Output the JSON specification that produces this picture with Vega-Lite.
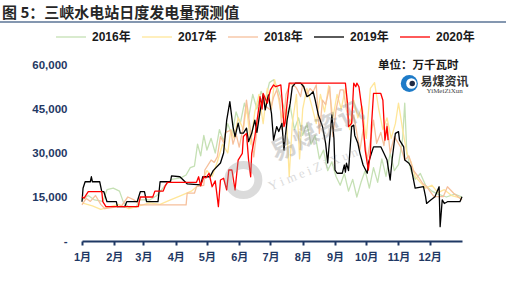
{
  "$schema": "https://vega.github.io/schema/vega-lite/v6.json",
  "width": 380,
  "height": 176,
  "autosize": {"type": "none"},
  "padding": {"left": 82, "top": 65, "right": 44, "bottom": 45},
  "background": "white",
  "title": {
    "text": "图 5：三峡水电站日度发电量预测值",
    "anchor": "start",
    "frame": "group",
    "dx": -80,
    "dy": 4,
    "font": "Noto Sans CJK SC",
    "fontSize": 15,
    "fontWeight": "bold",
    "color": "#262626",
    "offset": 4
  },
  "config": {
    "view": {"stroke": null},
    "axis": {"grid": false},
    "axisX": {"labelOverlap": false}
  },
  "datasets": {
    "daily": [
      {"s":"2016年","d":0,"v":14000},{"s":"2016年","d":6,"v":15500},{"s":"2016年","d":12,"v":14000},{"s":"2016年","d":20,"v":13500},{"s":"2016年","d":24,"v":17500},{"s":"2016年","d":30,"v":18000},{"s":"2016年","d":36,"v":17000},{"s":"2016年","d":40,"v":13000},{"s":"2016年","d":45,"v":11500},{"s":"2016年","d":52,"v":11500},{"s":"2016年","d":55,"v":14000},{"s":"2016年","d":65,"v":14000},{"s":"2016年","d":72,"v":15500},{"s":"2016年","d":80,"v":19000},{"s":"2016年","d":86,"v":21000},{"s":"2016年","d":95,"v":21500},{"s":"2016年","d":100,"v":22500},{"s":"2016年","d":104,"v":25000},{"s":"2016年","d":108,"v":25500},{"s":"2016年","d":111,"v":33000},{"s":"2016年","d":114,"v":29000},{"s":"2016年","d":117,"v":36000},{"s":"2016年","d":120,"v":31000},{"s":"2016年","d":124,"v":35000},{"s":"2016年","d":128,"v":30000},{"s":"2016年","d":132,"v":38000},{"s":"2016年","d":136,"v":34000},{"s":"2016年","d":140,"v":40000},{"s":"2016年","d":144,"v":36000},{"s":"2016年","d":148,"v":44000},{"s":"2016年","d":152,"v":40000},{"s":"2016年","d":156,"v":47000},{"s":"2016年","d":160,"v":42000},{"s":"2016年","d":164,"v":50000},{"s":"2016年","d":168,"v":45000},{"s":"2016年","d":172,"v":51000},{"s":"2016年","d":176,"v":48000},{"s":"2016年","d":180,"v":54000},{"s":"2016年","d":184,"v":55000},{"s":"2016年","d":188,"v":52000},{"s":"2016年","d":192,"v":48000},{"s":"2016年","d":196,"v":43000},{"s":"2016年","d":200,"v":46000},{"s":"2016年","d":204,"v":38000},{"s":"2016年","d":208,"v":42000},{"s":"2016年","d":212,"v":36000},{"s":"2016年","d":216,"v":40000},{"s":"2016年","d":220,"v":33000},{"s":"2016年","d":224,"v":36000},{"s":"2016年","d":228,"v":28000},{"s":"2016年","d":232,"v":31000},{"s":"2016年","d":236,"v":24000},{"s":"2016年","d":240,"v":27000},{"s":"2016年","d":244,"v":22000},{"s":"2016年","d":248,"v":19000},{"s":"2016年","d":252,"v":23000},{"s":"2016年","d":256,"v":17000},{"s":"2016年","d":260,"v":21000},{"s":"2016年","d":264,"v":15000},{"s":"2016年","d":268,"v":20000},{"s":"2016年","d":272,"v":24000},{"s":"2016年","d":276,"v":18000},{"s":"2016年","d":280,"v":25000},{"s":"2016年","d":284,"v":20000},{"s":"2016年","d":288,"v":28000},{"s":"2016年","d":292,"v":22000},{"s":"2016年","d":296,"v":30000},{"s":"2016年","d":300,"v":24000},{"s":"2016年","d":304,"v":26000},{"s":"2016年","d":308,"v":35000},{"s":"2016年","d":310,"v":47000},{"s":"2016年","d":312,"v":30000},{"s":"2016年","d":316,"v":24000},{"s":"2016年","d":320,"v":21000},{"s":"2016年","d":325,"v":23000},{"s":"2016年","d":330,"v":19000},{"s":"2016年","d":336,"v":17000},{"s":"2016年","d":342,"v":16000},{"s":"2016年","d":350,"v":15000},{"s":"2016年","d":358,"v":16000},{"s":"2016年","d":365,"v":15000},

      {"s":"2017年","d":0,"v":13000},{"s":"2017年","d":10,"v":12000},{"s":"2017年","d":18,"v":10800},{"s":"2017年","d":25,"v":11500},{"s":"2017年","d":35,"v":12500},{"s":"2017年","d":45,"v":11000},{"s":"2017年","d":55,"v":12000},{"s":"2017年","d":65,"v":13000},{"s":"2017年","d":75,"v":12500},{"s":"2017年","d":85,"v":14000},{"s":"2017年","d":95,"v":15500},{"s":"2017年","d":105,"v":17000},{"s":"2017年","d":115,"v":20000},{"s":"2017年","d":120,"v":24000},{"s":"2017年","d":125,"v":22000},{"s":"2017年","d":130,"v":27000},{"s":"2017年","d":135,"v":33000},{"s":"2017年","d":140,"v":30000},{"s":"2017年","d":143,"v":38000},{"s":"2017年","d":146,"v":35000},{"s":"2017年","d":150,"v":42000},{"s":"2017年","d":155,"v":38000},{"s":"2017年","d":158,"v":46000},{"s":"2017年","d":162,"v":33000},{"s":"2017年","d":166,"v":44000},{"s":"2017年","d":170,"v":50000},{"s":"2017年","d":174,"v":40000},{"s":"2017年","d":178,"v":52000},{"s":"2017年","d":182,"v":45000},{"s":"2017年","d":185,"v":55000},{"s":"2017年","d":188,"v":50000},{"s":"2017年","d":192,"v":42000},{"s":"2017年","d":196,"v":45000},{"s":"2017年","d":199,"v":22000},{"s":"2017年","d":202,"v":40000},{"s":"2017年","d":206,"v":50000},{"s":"2017年","d":209,"v":28000},{"s":"2017年","d":212,"v":45000},{"s":"2017年","d":216,"v":52000},{"s":"2017年","d":220,"v":47000},{"s":"2017年","d":225,"v":40000},{"s":"2017年","d":229,"v":50000},{"s":"2017年","d":233,"v":44000},{"s":"2017年","d":237,"v":53000},{"s":"2017年","d":241,"v":42000},{"s":"2017年","d":245,"v":50000},{"s":"2017年","d":249,"v":45000},{"s":"2017年","d":253,"v":52000},{"s":"2017年","d":257,"v":38000},{"s":"2017年","d":261,"v":48000},{"s":"2017年","d":265,"v":42000},{"s":"2017年","d":269,"v":46000},{"s":"2017年","d":273,"v":35000},{"s":"2017年","d":277,"v":52000},{"s":"2017年","d":281,"v":54000},{"s":"2017年","d":285,"v":45000},{"s":"2017年","d":289,"v":38000},{"s":"2017年","d":293,"v":42000},{"s":"2017年","d":297,"v":35000},{"s":"2017年","d":301,"v":40000},{"s":"2017年","d":304,"v":47000},{"s":"2017年","d":308,"v":38000},{"s":"2017年","d":312,"v":30000},{"s":"2017年","d":316,"v":27000},{"s":"2017年","d":320,"v":22000},{"s":"2017年","d":325,"v":20000},{"s":"2017年","d":330,"v":18000},{"s":"2017年","d":336,"v":19000},{"s":"2017年","d":342,"v":16500},{"s":"2017年","d":348,"v":17500},{"s":"2017年","d":355,"v":15500},{"s":"2017年","d":365,"v":14500},

      {"s":"2018年","d":0,"v":12300},{"s":"2018年","d":4,"v":14500},{"s":"2018年","d":8,"v":13500},{"s":"2018年","d":13,"v":15500},{"s":"2018年","d":18,"v":12500},{"s":"2018年","d":22,"v":11000},{"s":"2018年","d":30,"v":11500},{"s":"2018年","d":38,"v":12000},{"s":"2018年","d":44,"v":15000},{"s":"2018年","d":50,"v":14000},{"s":"2018年","d":56,"v":12300},{"s":"2018年","d":100,"v":12300},{"s":"2018年","d":101,"v":16300},{"s":"2018年","d":108,"v":16300},{"s":"2018年","d":110,"v":18500},{"s":"2018年","d":117,"v":19000},{"s":"2018年","d":118,"v":24200},{"s":"2018年","d":124,"v":27600},{"s":"2018年","d":127,"v":26800},{"s":"2018年","d":130,"v":28700},{"s":"2018年","d":133,"v":35600},{"s":"2018年","d":136,"v":33500},{"s":"2018年","d":138,"v":37000},{"s":"2018年","d":143,"v":37800},{"s":"2018年","d":145,"v":33000},{"s":"2018年","d":148,"v":36500},{"s":"2018年","d":151,"v":32000},{"s":"2018年","d":155,"v":39000},{"s":"2018年","d":158,"v":48000},{"s":"2018年","d":161,"v":40000},{"s":"2018年","d":165,"v":28700},{"s":"2018年","d":168,"v":38000},{"s":"2018年","d":171,"v":45800},{"s":"2018年","d":174,"v":48000},{"s":"2018年","d":176,"v":46000},{"s":"2018年","d":181,"v":44700},{"s":"2018年","d":184,"v":49000},{"s":"2018年","d":187,"v":51500},{"s":"2018年","d":190,"v":48000},{"s":"2018年","d":192,"v":38000},{"s":"2018年","d":194,"v":42000},{"s":"2018年","d":196,"v":50000},{"s":"2018年","d":200,"v":53800},{"s":"2018年","d":205,"v":52600},{"s":"2018年","d":207,"v":51500},{"s":"2018年","d":210,"v":49200},{"s":"2018年","d":212,"v":53500},{"s":"2018年","d":216,"v":50000},{"s":"2018年","d":219,"v":52000},{"s":"2018年","d":222,"v":50900},{"s":"2018年","d":225,"v":53200},{"s":"2018年","d":228,"v":36700},{"s":"2018年","d":231,"v":48000},{"s":"2018年","d":234,"v":46500},{"s":"2018年","d":238,"v":52600},{"s":"2018年","d":241,"v":35600},{"s":"2018年","d":244,"v":44700},{"s":"2018年","d":248,"v":51500},{"s":"2018年","d":251,"v":51500},{"s":"2018年","d":254,"v":44700},{"s":"2018年","d":258,"v":39000},{"s":"2018年","d":261,"v":43000},{"s":"2018年","d":264,"v":36700},{"s":"2018年","d":267,"v":31000},{"s":"2018年","d":270,"v":38000},{"s":"2018年","d":274,"v":27600},{"s":"2018年","d":280,"v":41200},{"s":"2018年","d":283,"v":33300},{"s":"2018年","d":287,"v":37000},{"s":"2018年","d":290,"v":32500},{"s":"2018年","d":293,"v":40100},{"s":"2018年","d":296,"v":30000},{"s":"2018年","d":300,"v":35600},{"s":"2018年","d":306,"v":32100},{"s":"2018年","d":310,"v":27600},{"s":"2018年","d":314,"v":29000},{"s":"2018年","d":318,"v":24200},{"s":"2018年","d":323,"v":21900},{"s":"2018年","d":327,"v":19700},{"s":"2018年","d":331,"v":18500},{"s":"2018年","d":338,"v":15100},{"s":"2018年","d":347,"v":15100},{"s":"2018年","d":351,"v":18500},{"s":"2018年","d":357,"v":16300},{"s":"2018年","d":365,"v":14000},

      {"s":"2019年","d":0,"v":13400},{"s":"2019年","d":1,"v":18000},{"s":"2019年","d":3,"v":20200},{"s":"2019年","d":8,"v":20200},{"s":"2019年","d":9,"v":21900},{"s":"2019年","d":10,"v":20200},{"s":"2019年","d":17,"v":20200},{"s":"2019年","d":19,"v":16800},{"s":"2019年","d":21,"v":16800},{"s":"2019年","d":24,"v":13400},{"s":"2019年","d":33,"v":13400},{"s":"2019年","d":34,"v":11700},{"s":"2019年","d":41,"v":11700},{"s":"2019年","d":43,"v":13400},{"s":"2019年","d":53,"v":13400},{"s":"2019年","d":56,"v":16800},{"s":"2019年","d":60,"v":16800},{"s":"2019年","d":62,"v":13400},{"s":"2019年","d":73,"v":13400},{"s":"2019年","d":75,"v":20200},{"s":"2019年","d":85,"v":20200},{"s":"2019年","d":86,"v":22200},{"s":"2019年","d":94,"v":21900},{"s":"2019年","d":101,"v":19500},{"s":"2019年","d":114,"v":19100},{"s":"2019年","d":116,"v":21900},{"s":"2019年","d":123,"v":21900},{"s":"2019年","d":126,"v":24000},{"s":"2019年","d":133,"v":26600},{"s":"2019年","d":136,"v":30000},{"s":"2019年","d":139,"v":41200},{"s":"2019年","d":142,"v":47500},{"s":"2019年","d":145,"v":39000},{"s":"2019年","d":147,"v":35600},{"s":"2019年","d":150,"v":40200},{"s":"2019年","d":152,"v":36800},{"s":"2019年","d":155,"v":36800},{"s":"2019年","d":158,"v":38500},{"s":"2019年","d":160,"v":33900},{"s":"2019年","d":163,"v":36700},{"s":"2019年","d":166,"v":41200},{"s":"2019年","d":168,"v":37000},{"s":"2019年","d":171,"v":44000},{"s":"2019年","d":174,"v":49800},{"s":"2019年","d":176,"v":44700},{"s":"2019年","d":179,"v":49800},{"s":"2019年","d":182,"v":43500},{"s":"2019年","d":184,"v":34400},{"s":"2019年","d":187,"v":39000},{"s":"2019年","d":189,"v":37300},{"s":"2019年","d":192,"v":40100},{"s":"2019年","d":194,"v":31000},{"s":"2019年","d":197,"v":41200},{"s":"2019年","d":200,"v":47000},{"s":"2019年","d":202,"v":52600},{"s":"2019年","d":205,"v":53800},{"s":"2019年","d":210,"v":53800},{"s":"2019年","d":213,"v":52600},{"s":"2019年","d":216,"v":49200},{"s":"2019年","d":219,"v":49800},{"s":"2019年","d":222,"v":50900},{"s":"2019年","d":224,"v":48000},{"s":"2019年","d":227,"v":43000},{"s":"2019年","d":231,"v":39000},{"s":"2019年","d":234,"v":33300},{"s":"2019年","d":236,"v":26600},{"s":"2019年","d":237,"v":31000},{"s":"2019年","d":239,"v":39000},{"s":"2019年","d":240,"v":43000},{"s":"2019年","d":242,"v":35000},{"s":"2019年","d":243,"v":24200},{"s":"2019年","d":245,"v":23100},{"s":"2019年","d":250,"v":23100},{"s":"2019年","d":252,"v":25900},{"s":"2019年","d":253,"v":23500},{"s":"2019年","d":254,"v":26500},{"s":"2019年","d":256,"v":24000},{"s":"2019年","d":259,"v":39000},{"s":"2019年","d":261,"v":39500},{"s":"2019年","d":262,"v":36000},{"s":"2019年","d":265,"v":33300},{"s":"2019年","d":267,"v":29900},{"s":"2019年","d":270,"v":25900},{"s":"2019年","d":274,"v":23100},{"s":"2019年","d":275,"v":26500},{"s":"2019年","d":278,"v":29900},{"s":"2019年","d":280,"v":32100},{"s":"2019年","d":287,"v":32100},{"s":"2019年","d":290,"v":29900},{"s":"2019年","d":293,"v":27600},{"s":"2019年","d":296,"v":20800},{"s":"2019年","d":298,"v":28200},{"s":"2019年","d":301,"v":36700},{"s":"2019年","d":304,"v":37300},{"s":"2019年","d":305,"v":34400},{"s":"2019年","d":309,"v":32100},{"s":"2019年","d":310,"v":27600},{"s":"2019年","d":314,"v":26500},{"s":"2019年","d":316,"v":25300},{"s":"2019年","d":320,"v":18000},{"s":"2019年","d":328,"v":18500},{"s":"2019年","d":330,"v":15100},{"s":"2019年","d":331,"v":12800},{"s":"2019年","d":335,"v":14000},{"s":"2019年","d":339,"v":15100},{"s":"2019年","d":343,"v":18500},{"s":"2019年","d":344,"v":4900},{"s":"2019年","d":346,"v":14000},{"s":"2019年","d":348,"v":12800},{"s":"2019年","d":351,"v":13400},{"s":"2019年","d":363,"v":13400},{"s":"2019年","d":365,"v":15100},

      {"s":"2020年","d":0,"v":15100},{"s":"2020年","d":2,"v":14600},{"s":"2020年","d":6,"v":16800},{"s":"2020年","d":19,"v":16800},{"s":"2020年","d":20,"v":13400},{"s":"2020年","d":23,"v":11700},{"s":"2020年","d":54,"v":11700},{"s":"2020年","d":56,"v":15000},{"s":"2020年","d":68,"v":15000},{"s":"2020年","d":70,"v":17000},{"s":"2020年","d":78,"v":17000},{"s":"2020年","d":80,"v":18800},{"s":"2020年","d":82,"v":20000},{"s":"2020年","d":110,"v":20000},{"s":"2020年","d":112,"v":21900},{"s":"2020年","d":114,"v":18800},{"s":"2020年","d":117,"v":22000},{"s":"2020年","d":119,"v":21500},{"s":"2020年","d":122,"v":23100},{"s":"2020年","d":125,"v":18500},{"s":"2020年","d":128,"v":20500},{"s":"2020年","d":131,"v":11700},{"s":"2020年","d":133,"v":20800},{"s":"2020年","d":136,"v":21400},{"s":"2020年","d":139,"v":17400},{"s":"2020年","d":141,"v":24200},{"s":"2020年","d":144,"v":24200},{"s":"2020年","d":147,"v":17400},{"s":"2020年","d":150,"v":27600},{"s":"2020年","d":154,"v":29900},{"s":"2020年","d":155,"v":35600},{"s":"2020年","d":158,"v":36700},{"s":"2020年","d":160,"v":27600},{"s":"2020年","d":162,"v":21900},{"s":"2020年","d":163,"v":29900},{"s":"2020年","d":166,"v":35600},{"s":"2020年","d":170,"v":45800},{"s":"2020年","d":171,"v":49200},{"s":"2020年","d":173,"v":45000},{"s":"2020年","d":174,"v":50300},{"s":"2020年","d":178,"v":47000},{"s":"2020年","d":181,"v":51500},{"s":"2020年","d":184,"v":53200},{"s":"2020年","d":186,"v":52600},{"s":"2020年","d":189,"v":53000},{"s":"2020年","d":191,"v":53200},{"s":"2020年","d":192,"v":49000},{"s":"2020年","d":194,"v":39000},{"s":"2020年","d":195,"v":40100},{"s":"2020年","d":197,"v":47000},{"s":"2020年","d":199,"v":53800},{"s":"2020年","d":253,"v":53800},{"s":"2020年","d":255,"v":47000},{"s":"2020年","d":256,"v":39000},{"s":"2020年","d":259,"v":40100},{"s":"2020年","d":261,"v":53800},{"s":"2020年","d":263,"v":52600},{"s":"2020年","d":264,"v":53800},{"s":"2020年","d":266,"v":52600},{"s":"2020年","d":269,"v":44700},{"s":"2020年","d":272,"v":31000},{"s":"2020年","d":275,"v":24200},{"s":"2020年","d":277,"v":30000},{"s":"2020年","d":278,"v":39000},{"s":"2020年","d":280,"v":50300},{"s":"2020年","d":287,"v":50300},{"s":"2020年","d":289,"v":48000},{"s":"2020年","d":290,"v":41200},{"s":"2020年","d":291,"v":34400},{"s":"2020年","d":293,"v":39000},{"s":"2020年","d":294,"v":34400}
    ]
  },
  "layer": [
    {
      "data": {"name": "daily"},
      "mark": {"type": "line", "interpolate": "linear", "strokeJoin": "round"},
      "encoding": {
        "x": {
          "field": "d", "type": "quantitative",
          "scale": {"domain": [0, 365], "nice": false, "zero": false},
          "axis": {
            "title": null,
            "values": [0, 31, 59, 90, 120, 151, 181, 212, 243, 273, 304, 334],
            "tickCount": 40,
            "labelExpr": "(indexof([0,31,59,90,120,151,181,212,243,273,304,334], datum.value) + 1) + '月'",
            "domainColor": "#1F3864", "domainWidth": 2,
            "tickColor": "#1F3864", "tickWidth": 2, "tickSize": 4,
            "labelColor": "#1F3864", "labelFont": "Liberation Sans, Noto Sans CJK SC",
            "labelFontSize": 11, "labelFontWeight": "bold", "labelPadding": 6,
            "labelFlush": false, "labelOverlap": false
          }
        },
        "y": {
          "field": "v", "type": "quantitative",
          "scale": {"domain": [0, 60000], "nice": false},
          "axis": {
            "title": null,
            "values": [0, 15000, 30000, 45000, 60000],
            "tickCount": 10,
            "labelExpr": "datum.value == 0 ? '-\u00a0\u00a0' : format(datum.value, ',')",
            "domain": false, "ticks": false,
            "labelColor": "#1F3864", "labelFont": "Liberation Sans",
            "labelFontSize": 11.5, "labelFontWeight": "bold", "labelPadding": 15
          }
        },
        "color": {
          "field": "s", "type": "nominal",
          "scale": {
            "domain": ["2016年", "2017年", "2018年", "2019年", "2020年"],
            "range": ["#C5E0B4", "#FFE699", "#F6C09C", "#000000", "#FF0000"]
          },
          "legend": {
            "title": null, "orient": "none", "direction": "horizontal", "columns": 5,
            "legendX": -27, "legendY": -44,
            "symbolType": "stroke", "symbolSize": 900, "symbolStrokeWidth": 3,
            "labelFont": "Liberation Sans, Noto Sans CJK SC", "labelFontSize": 12,
            "labelFontWeight": "bold", "labelColor": "#1a1a1a",
            "labelOffset": 5, "columnPadding": 8
          }
        },
        "strokeWidth": {
          "field": "s", "type": "nominal",
          "scale": {
            "domain": ["2016年", "2017年", "2018年", "2019年", "2020年"],
            "range": [1.3, 1.3, 1.3, 2.2, 2.2]
          },
          "legend": null
        }
      }
    },
    {
      "data": {"values": [{}]},
      "mark": {"type": "point", "shape": "circle", "filled": false, "stroke": "#9a9a9a", "strokeWidth": 8, "opacity": 0.35, "size": 900},
      "encoding": {
        "x": {"datum": 155, "type": "quantitative"},
        "y": {"datum": 20800, "type": "quantitative"}
      }
    },
    {
      "data": {"values": [{}]},
      "mark": {"type": "text", "text": "易煤资讯", "font": "Noto Sans CJK SC", "fontWeight": "bold", "fontSize": 25, "angle": -27, "color": "#8a8a8a", "opacity": 0.35},
      "encoding": {
        "x": {"datum": 226, "type": "quantitative"},
        "y": {"datum": 37200, "type": "quantitative"}
      }
    },
    {
      "data": {"values": [{}]},
      "mark": {"type": "text", "text": "Y i m e i Z i X u n", "font": "Liberation Serif", "fontSize": 13, "angle": -22, "color": "#8a8a8a", "opacity": 0.3},
      "encoding": {
        "x": {"datum": 222, "type": "quantitative"},
        "y": {"datum": 24500, "type": "quantitative"}
      }
    },
    {
      "data": {"values": [{}]},
      "mark": {"type": "text", "text": "单位：万千瓦时", "font": "Noto Sans CJK SC", "fontWeight": "bold", "fontSize": 11.5, "color": "#1a1a1a"},
      "encoding": {
        "x": {"datum": 323, "type": "quantitative"},
        "y": {"datum": 59800, "type": "quantitative"}
      }
    },
    {
      "data": {"values": [{}]},
      "mark": {"type": "point", "shape": "circle", "filled": true, "color": "#1E7BC8", "opacity": 1, "size": 290},
      "encoding": {
        "x": {"datum": 314.4, "type": "quantitative"},
        "y": {"datum": 53700, "type": "quantitative"}
      }
    },
    {
      "data": {"values": [{}]},
      "mark": {"type": "point", "shape": "circle", "filled": true, "color": "#ffffff", "opacity": 1, "size": 110},
      "encoding": {
        "x": {"datum": 316.4, "type": "quantitative"},
        "y": {"datum": 53700, "type": "quantitative"}
      }
    },
    {
      "data": {"values": [{}]},
      "mark": {"type": "point", "shape": "circle", "filled": true, "color": "#1F2A44", "opacity": 1, "size": 30},
      "encoding": {
        "x": {"datum": 317.2, "type": "quantitative"},
        "y": {"datum": 53700, "type": "quantitative"}
      }
    },
    {
      "data": {"values": [{}]},
      "mark": {"type": "text", "text": "易煤资讯", "font": "Noto Sans CJK SC", "fontWeight": "bold", "fontSize": 12, "color": "#333333"},
      "encoding": {
        "x": {"datum": 348.3, "type": "quantitative"},
        "y": {"datum": 54300, "type": "quantitative"}
      }
    },
    {
      "data": {"values": [{}]},
      "mark": {"type": "text", "text": "YiMeiZiXun", "font": "Liberation Serif", "fontSize": 7, "color": "#444444"},
      "encoding": {
        "x": {"datum": 348.3, "type": "quantitative"},
        "y": {"datum": 51000, "type": "quantitative"}
      }
    },
    {
      "data": {"values": [{}]},
      "mark": {"type": "rule", "color": "#8497B0", "strokeWidth": 2, "clip": false},
      "encoding": {
        "x": {"datum": -79, "type": "quantitative"},
        "x2": {"datum": 408},
        "y": {"datum": 74700, "type": "quantitative"}
      }
    }
  ]
}
